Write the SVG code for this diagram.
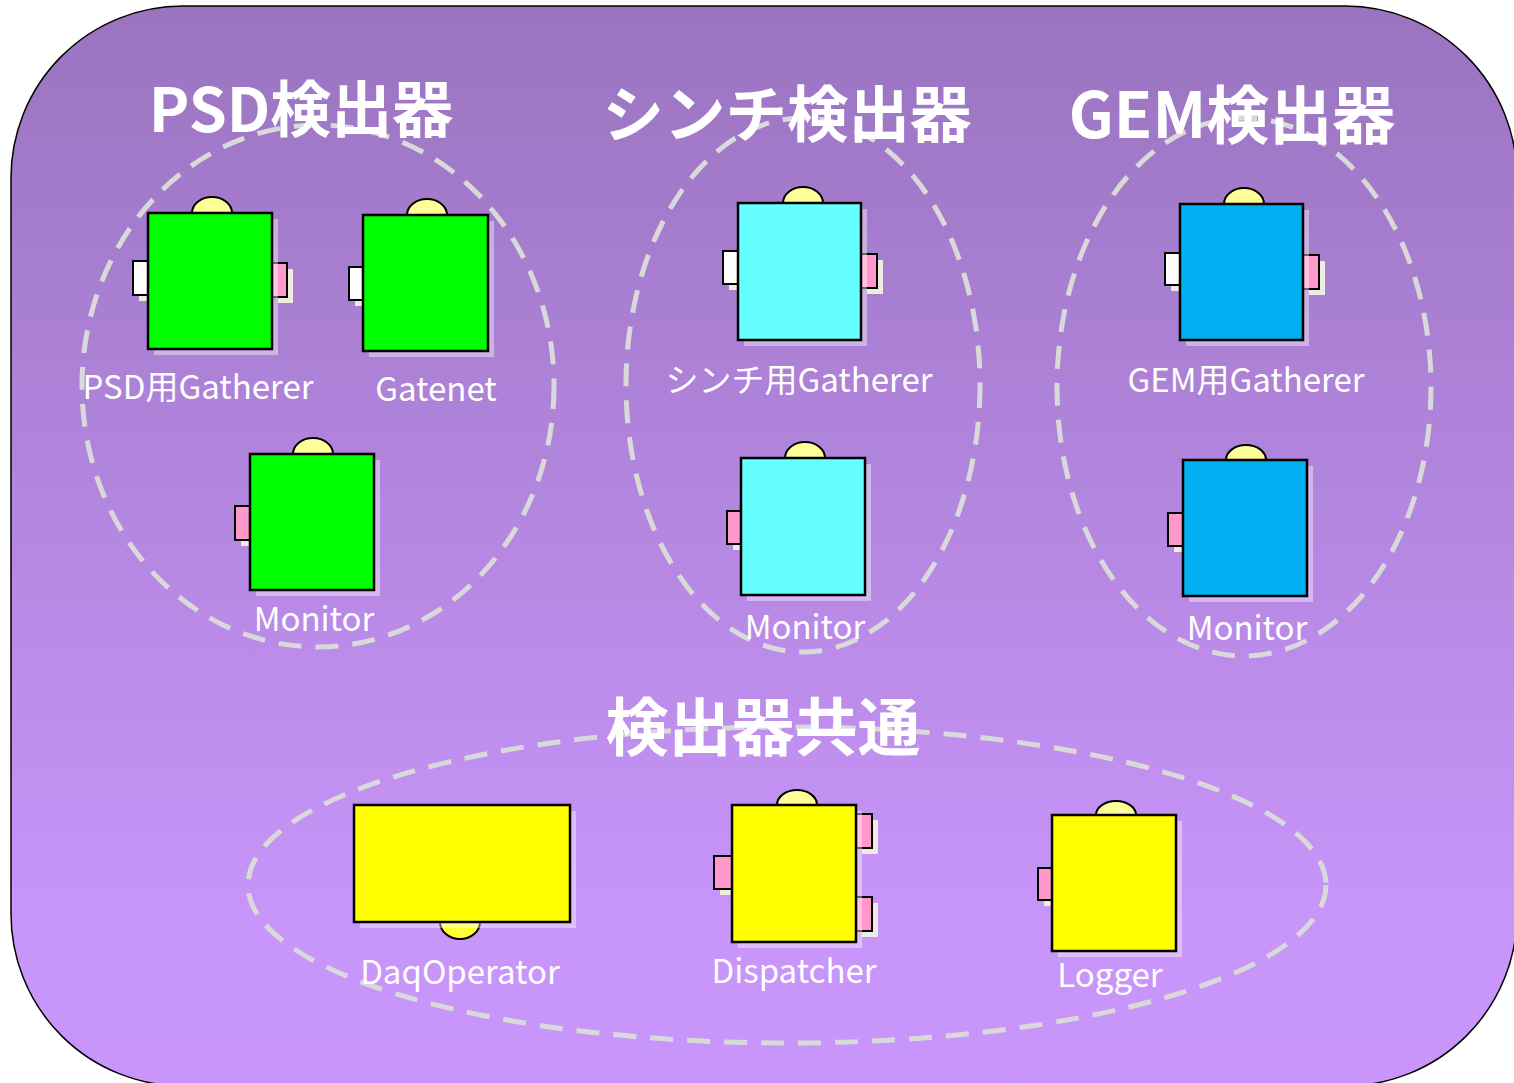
<svg xmlns="http://www.w3.org/2000/svg" width="1514" height="1083" viewBox="0 0 1514 1083">
<defs>
<linearGradient id="bg" x1="0" y1="0" x2="0" y2="1">
<stop offset="0" stop-color="#9a74bf"/>
<stop offset="0.85" stop-color="#c895fa"/>
<stop offset="1" stop-color="#c995fb"/>
</linearGradient>
</defs>
<style>
.grp{fill:none;stroke:#d9d9d9;stroke-width:5;stroke-dasharray:23 14}
.body{stroke:#000;stroke-width:2.5}
.sh{fill:#fff;fill-opacity:0.4}
.psh{fill:#eeebe0}
.pw{fill:#fff;stroke:#000;stroke-width:2}
.pp{fill:#ff99cc;stroke:#000;stroke-width:2}
.knob{fill:#ffff99;stroke:#000;stroke-width:2}
.green{fill:#00ff00}
.cyan{fill:#66ffff}
.blue{fill:#00b0f0}
.yellow{fill:#ffff00}
.lbl{font-family:"Noto Sans CJK JP","Noto Sans",sans-serif;font-size:33px;fill:#fff;text-anchor:middle}
.ttl{font-family:"Noto Sans CJK JP","Noto Sans",sans-serif;font-size:63px;font-weight:bold;fill:#fff;text-anchor:middle}
</style>
<rect x="11" y="6" width="1506" height="1080" rx="172" ry="172" fill="url(#bg)" stroke="#000" stroke-width="1.5"/>
<g id="groups">
<ellipse class="grp" cx="318" cy="386" rx="236" ry="261"/>
<ellipse class="grp" cx="803" cy="385" rx="177" ry="267"/>
<ellipse class="grp" cx="1244" cy="387" rx="187" ry="269"/>
<ellipse class="grp" cx="787" cy="885" rx="539" ry="158"/>
</g>
<g id="connectors"/>
<g id="psd-gatherer">
<rect class="psh" x="139" y="267" width="15" height="34"/>
<rect class="psh" x="278" y="269" width="15" height="34"/>
<rect class="pw" x="133" y="261" width="15" height="34"/>
<rect class="pp" x="272" y="263" width="15" height="34"/>
<ellipse class="knob" cx="212" cy="213" rx="20" ry="16"/>
<rect class="sh" x="154" y="219" width="124" height="136"/>
<rect class="body green" x="148" y="213" width="124" height="136"/>
<text class="lbl" x="198" y="399">PSD用Gatherer</text>
</g>
<g id="gatenet">
<rect class="psh" x="355" y="273" width="14" height="33"/>
<rect class="pw" x="349" y="267" width="14" height="33"/>
<ellipse class="knob" cx="427" cy="215" rx="20" ry="16"/>
<rect class="sh" x="369" y="221" width="125" height="136"/>
<rect class="body green" x="363" y="215" width="125" height="136"/>
<text class="lbl" x="436" y="401">Gatenet</text>
</g>
<g id="psd-monitor">
<rect class="psh" x="241" y="512" width="15" height="34"/>
<rect class="pp" x="235" y="506" width="15" height="34"/>
<ellipse class="knob" cx="313" cy="454" rx="20" ry="16"/>
<rect class="sh" x="256" y="460" width="124" height="136"/>
<rect class="body green" x="250" y="454" width="124" height="136"/>
<text class="lbl" x="314" y="631">Monitor</text>
</g>
<g id="scinti-gatherer">
<rect class="psh" x="729" y="257" width="15" height="33"/>
<rect class="psh" x="867" y="260" width="16" height="34"/>
<rect class="pw" x="723" y="251" width="15" height="33"/>
<rect class="pp" x="861" y="254" width="16" height="34"/>
<ellipse class="knob" cx="803" cy="203" rx="20" ry="16"/>
<rect class="sh" x="744" y="209" width="123" height="137"/>
<rect class="body cyan" x="738" y="203" width="123" height="137"/>
<text class="lbl" x="799" y="392">シンチ用Gatherer</text>
</g>
<g id="scinti-monitor">
<rect class="psh" x="733" y="517" width="14" height="33"/>
<rect class="pp" x="727" y="511" width="14" height="33"/>
<ellipse class="knob" cx="805" cy="458" rx="20" ry="16"/>
<rect class="sh" x="747" y="464" width="124" height="137"/>
<rect class="body cyan" x="741" y="458" width="124" height="137"/>
<text class="lbl" x="805" y="639">Monitor</text>
</g>
<g id="gem-gatherer">
<rect class="psh" x="1171" y="259" width="15" height="32"/>
<rect class="psh" x="1309" y="261" width="16" height="34"/>
<rect class="pw" x="1165" y="253" width="15" height="32"/>
<rect class="pp" x="1303" y="255" width="16" height="34"/>
<ellipse class="knob" cx="1244" cy="204" rx="20" ry="16"/>
<rect class="sh" x="1186" y="210" width="123" height="136"/>
<rect class="body blue" x="1180" y="204" width="123" height="136"/>
<text class="lbl" x="1246" y="392">GEM用Gatherer</text>
</g>
<g id="gem-monitor">
<rect class="psh" x="1174" y="519" width="15" height="33"/>
<rect class="pp" x="1168" y="513" width="15" height="33"/>
<ellipse class="knob" cx="1246" cy="460" rx="20" ry="15"/>
<rect class="sh" x="1189" y="466" width="124" height="136"/>
<rect class="body blue" x="1183" y="460" width="124" height="136"/>
<text class="lbl" x="1247" y="640">Monitor</text>
</g>
<g id="daqoperator">
<ellipse cx="460" cy="922" rx="20" ry="17" fill="#ffff33" stroke="#000" stroke-width="2"/>
<rect class="sh" x="360" y="811" width="216" height="117"/>
<rect class="body yellow" x="354" y="805" width="216" height="117"/>
<text class="lbl" x="460" y="984">DaqOperator</text>
</g>
<g id="dispatcher">
<rect class="psh" x="720" y="862" width="18" height="33"/>
<rect class="psh" x="862" y="820" width="16" height="34"/>
<rect class="psh" x="862" y="903" width="16" height="34"/>
<rect class="pp" x="714" y="856" width="18" height="33"/>
<rect class="pp" x="856" y="814" width="16" height="34"/>
<rect class="pp" x="856" y="897" width="16" height="34"/>
<ellipse class="knob" cx="797" cy="805" rx="20" ry="15"/>
<rect class="sh" x="738" y="811" width="124" height="137"/>
<rect class="body yellow" x="732" y="805" width="124" height="137"/>
<text class="lbl" x="794" y="983">Dispatcher</text>
</g>
<g id="logger">
<rect class="psh" x="1044" y="874" width="14" height="32"/>
<rect class="pp" x="1038" y="868" width="14" height="32"/>
<ellipse class="knob" cx="1116" cy="815" rx="20" ry="14"/>
<rect class="sh" x="1058" y="821" width="124" height="136"/>
<rect class="body yellow" x="1052" y="815" width="124" height="136"/>
<text class="lbl" x="1110" y="987">Logger</text>
</g>
<g id="titles">
<text class="ttl" x="301" y="132" style="font-size:61px">PSD検出器</text>
<text class="ttl" x="787" y="137" style="font-size:61.5px">シンチ検出器</text>
<text class="ttl" x="1232" y="138">GEM検出器</text>
<text class="ttl" x="763" y="750">検出器共通</text>
</g>
</svg>
